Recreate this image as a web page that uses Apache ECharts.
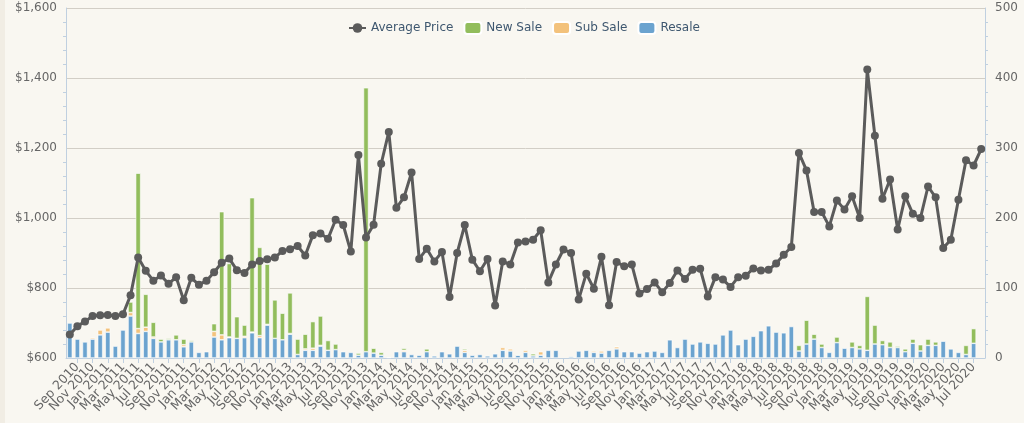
<!DOCTYPE html>
<html>
<head>
<meta charset="utf-8">
<script src="https://cdn.jsdelivr.net/npm/echarts@6/dist/echarts.min.js"></script>
<style>
html,body{margin:0;padding:0;background:#f9f7f1;}
#c{width:1024px;height:423px;}
</style>
</head>
<body>
<div id="c"></div>
<script>
// Months (first point Aug 2010, last Aug 2020)
const months = [
"Aug 2010","Sep 2010","Oct 2010","Nov 2010","Dec 2010",
"Jan 2011","Feb 2011","Mar 2011","Apr 2011","May 2011","Jun 2011","Jul 2011","Aug 2011","Sep 2011","Oct 2011","Nov 2011","Dec 2011",
"Jan 2012","Feb 2012","Mar 2012","Apr 2012","May 2012","Jun 2012","Jul 2012","Aug 2012","Sep 2012","Oct 2012","Nov 2012","Dec 2012",
"Jan 2013","Feb 2013","Mar 2013","Apr 2013","May 2013","Jun 2013","Jul 2013","Aug 2013","Sep 2013","Oct 2013","Nov 2013","Dec 2013",
"Jan 2014","Feb 2014","Mar 2014","Apr 2014","May 2014","Jun 2014","Jul 2014","Aug 2014","Sep 2014","Oct 2014","Nov 2014","Dec 2014",
"Jan 2015","Feb 2015","Mar 2015","Apr 2015","May 2015","Jun 2015","Jul 2015","Aug 2015","Sep 2015","Oct 2015","Nov 2015","Dec 2015",
"Jan 2016","Feb 2016","Mar 2016","Apr 2016","May 2016","Jun 2016","Jul 2016","Aug 2016","Sep 2016","Oct 2016","Nov 2016","Dec 2016",
"Jan 2017","Feb 2017","Mar 2017","Apr 2017","May 2017","Jun 2017","Jul 2017","Aug 2017","Sep 2017","Oct 2017","Nov 2017","Dec 2017",
"Jan 2018","Feb 2018","Mar 2018","Apr 2018","May 2018","Jun 2018","Jul 2018","Aug 2018","Sep 2018","Oct 2018","Nov 2018","Dec 2018",
"Jan 2019","Feb 2019","Mar 2019","Apr 2019","May 2019","Jun 2019","Jul 2019","Aug 2019","Sep 2019","Oct 2019","Nov 2019","Dec 2019",
"Jan 2020","Feb 2020","Mar 2020","Apr 2020","May 2020","Jun 2020","Jul 2020","Aug 2020"
];

const averagePrice = [
667,691,704,720,722,723,720,725,779,887,849,821,836,812,831,765,829,809,821,845,
872,884,851,843,867,877,882,887,906,911,920,893,951,956,941,995,980,904,1180,944,
981,1155,1246,1029,1059,1130,883,912,876,903,774,900,980,881,848,883,750,876,867,930,
933,938,965,816,867,910,900,767,841,798,889,751,874,862,867,784,797,816,788,814,
850,826,852,855,776,831,824,803,831,835,856,850,852,870,895,917,1186,1136,1017,1017,
976,1050,1024,1062,1000,1424,1235,1055,1110,967,1062,1012,1000,1090,1059,914,938,1052,1165,1150,
1197
];

const resale = [
50,27,23,27,33,37,17,40,60,35,38,28,23,26,26,16,23,8,9,30,
26,29,28,29,36,29,47,28,26,34,5,11,11,17,11,12,9,8,4,9,
7,4,1,9,9,5,4,9,3,9,6,17,8,4,5,3,6,11,10,4,
8,3,4,11,11,0,2,10,11,8,7,11,13,9,9,7,9,10,8,26,
15,27,20,23,21,20,33,40,19,27,31,39,46,37,36,45,10,20,27,15,
8,22,14,15,13,11,20,19,15,15,9,21,10,18,18,24,13,8,5,21,
0
];

const subSale = [
0,0,0,2,7,6,0,0,5,7,6,2,0,0,0,3,0,0,0,8,
7,1,0,2,1,3,1,0,0,1,0,2,3,1,0,0,0,0,0,0,
0,0,0,0,2,0,0,0,0,0,0,0,3,0,0,0,0,4,3,0,
3,0,5,0,0,0,0,0,0,2,3,0,3,0,0,0,0,0,0,0,
0,0,0,0,0,0,0,0,0,0,0,0,0,0,0,0,0,0,0,0,
0,0,0,0,0,0,0,0,0,0,0,0,0,0,0,0,0,0,0,0,
0
];

const newSale = [
0,0,0,0,0,0,0,0,15,222,47,21,4,2,7,8,2,0,0,11,
176,105,31,16,192,126,86,55,38,58,22,21,38,42,14,8,0,0,3,377,
7,4,1,0,3,0,0,4,0,0,0,0,2,0,0,0,0,0,0,1,
0,3,0,0,0,0,0,0,0,0,0,0,1,0,0,0,0,0,0,0,
0,0,0,0,0,0,0,0,0,0,0,0,0,0,0,0,8,34,7,5,
0,8,0,8,5,77,27,6,8,2,4,6,9,9,5,0,0,0,13,21,
0
];

const priceTicks = [600, 800, 1000, 1200, 1400, 1600];
const countTicks = [0, 100, 200, 300, 400, 500];

const nz = a => a.map(v => v === 0 ? null : v);
const FONT = 'DejaVu Sans';
const axisCol = '#c0d0e0';
const everyOther = (i) => i % 2 === 1;

// Labels every other month, split over two overlaid axes so none get auto-hidden
const labelStyle = {rotate: 47, color: '#666', fontSize: 12.5, fontFamily: FONT, margin: 7,
  showMinLabel: true, showMaxLabel: true, hideOverlap: false};

const chart = echarts.init(document.getElementById('c'), null, {renderer: 'canvas'});
chart.setOption({
  backgroundColor: '#f9f7f1',
  animation: false,
  textStyle: {fontFamily: FONT},
  graphic: [{type: 'rect', left: 0, top: 0, shape: {width: 5, height: 423}, style: {fill: '#f1ede4'}, silent: true, z: -1}],
  legend: {
    top: 16, left: 343,
    itemWidth: 17, itemHeight: 12, itemGap: 10,
    textStyle: {color: '#3e576f', fontSize: 12, fontFamily: FONT},
    data: ['Average Price', 'New Sale', 'Sub Sale', 'Resale']
  },
  grid: {left: 66, right: 39, top: 8, bottom: 65, containLabel: false},
  xAxis: [
    {
      type: 'category', data: months, boundaryGap: true, position: 'bottom',
      axisLine: {lineStyle: {color: axisCol}},
      axisTick: {show: true, alignWithLabel: true, interval: everyOther, length: 5, lineStyle: {color: axisCol}},
      axisLabel: Object.assign({interval: (i) => i % 4 === 1}, labelStyle)
    },
    {
      type: 'category', data: months, boundaryGap: true, position: 'bottom', offset: 0,
      axisLine: {show: false},
      axisTick: {show: false},
      splitLine: {show: false},
      axisLabel: Object.assign({interval: (i) => i % 4 === 3}, labelStyle)
    }
  ],
  yAxis: [
    {
      type: 'value', min: priceTicks[0], max: priceTicks[priceTicks.length-1], interval: 200,
      axisLine: {show: true, lineStyle: {color: axisCol}},
      axisTick: {show: false},
      minorTick: {show: true, splitNumber: 5, length: 3, lineStyle: {color: axisCol}},
      splitLine: {show: true, lineStyle: {color: '#d2cec6', width: 1}},
      axisLabel: {color: '#666', fontSize: 12, fontFamily: FONT, margin: 9,
        formatter: v => '$' + v.toLocaleString('en-US')}
    },
    {
      type: 'value', min: countTicks[0], max: countTicks[countTicks.length-1], interval: 100,
      position: 'right',
      axisLine: {show: true, lineStyle: {color: axisCol}},
      axisTick: {show: false},
      minorTick: {show: true, splitNumber: 5, length: 3, lineStyle: {color: axisCol}},
      splitLine: {show: false},
      axisLabel: {color: '#666', fontSize: 12, fontFamily: FONT, margin: 10}
    }
  ],
  series: [
    {name: 'Resale', type: 'bar', stack: 'sales', xAxisIndex: 0, yAxisIndex: 1, data: nz(resale), barWidth: 5,
      itemStyle: {color: '#6ba3cf', borderColor: '#ffffff', borderWidth: 0.6}},
    {name: 'Sub Sale', type: 'bar', stack: 'sales', xAxisIndex: 0, yAxisIndex: 1, data: nz(subSale), barWidth: 5,
      itemStyle: {color: '#f3c27c', borderColor: '#ffffff', borderWidth: 0.6}},
    {name: 'New Sale', type: 'bar', stack: 'sales', xAxisIndex: 0, yAxisIndex: 1, data: nz(newSale), barWidth: 5,
      itemStyle: {color: '#92bd5c', borderColor: '#ffffff', borderWidth: 0.6}},
    {name: 'Average Price', type: 'line', xAxisIndex: 0, yAxisIndex: 0, data: averagePrice, z: 5,
      symbol: 'circle', symbolSize: 8, showAllSymbol: true,
      lineStyle: {color: '#5b5b5b', width: 3},
      itemStyle: {color: '#5b5b5b'}}
  ]
});
</script>
</body>
</html>
